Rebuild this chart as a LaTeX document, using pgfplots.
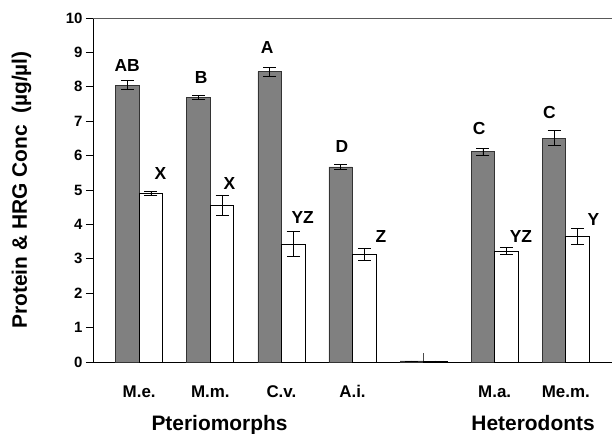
\documentclass[border=0pt]{standalone}
\usepackage{pgfplots}
\usepackage{pgfplotstable}
\pgfplotsset{compat=1.18}
\usepackage{fontspec}
\setmainfont{Liberation Sans}
\pgfplotstableread{
x d de w we
0 8.05 0.13 4.90 0.06
1 7.69 0.06 4.55 0.30
2 8.44 0.13 3.43 0.37
3 5.67 0.08 3.12 0.17
4 0.03 0.00 0.03 0.00
5 6.11 0.11 3.22 0.10
6 6.51 0.21 3.65 0.23
}\data
\begin{document}
\begin{tikzpicture}
\begin{axis}[
 scale only axis, width=519bp, height=344bp,
 xmin=-0.65, xmax=6.65, ymin=0, ymax=10,
 axis lines*=left, axis line style={black, line width=0.8bp},
 clip=false,
 ytick={0,1,...,10},
 xtick={0,1,...,6},
 xticklabels={M.e.,M.m.,C.v.,A.i.,,M.a.,Me.m.},
 x tick style={draw=none},
 y tick style={black, line width=0.8bp},
 tick align=outside, major tick length=7bp,
 yticklabel style={font=\fontsize{15}{18}\selectfont\bfseries},
 xticklabel style={font=\fontsize{17}{20}\selectfont\bfseries, anchor=base, yshift=-28bp},
 /pgf/number format/assume math mode=true,
]
\coordinate (sw) at (rel axis cs:0,0);
\coordinate (ne) at (rel axis cs:1,1);
\draw[black!65, line width=0.8bp] (rel axis cs:0,1) -- (rel axis cs:1,1);
\addplot[ybar, bar width=23.5bp, bar shift=0pt, fill=gray, draw=black!80, line width=0.7bp,
  error bars/.cd, y dir=both, y explicit,
  error bar style={black, line width=0.7bp},
  error mark options={rotate=90, mark size=6.5bp, black, line width=0.7bp}]
  table[x expr=\thisrow{x}-0.1653, y=d, y error=de] {\data};
\addplot[ybar, bar width=23.5bp, bar shift=0pt, fill=white, draw=black, line width=0.7bp,
  error bars/.cd, y dir=both, y explicit,
  error bar style={black, line width=0.7bp},
  error mark options={rotate=90, mark size=6.5bp, black, line width=0.7bp}]
  table[x expr=\thisrow{x}+0.1653, y=w, y error=we] {\data};
\addplot[draw=none, mark=none,
  error bars/.cd, y dir=plus, y explicit, error mark=none,
  error bar style={black!70, line width=0.7bp}]
  coordinates {(4,0.03) +- (0,0.24)};
\begin{scope}[every node/.style={font=\fontsize{17.5}{20}\selectfont\bfseries, anchor=center, inner sep=0pt}]
\node at (axis cs:-0.17,8.63) {AB};
\node at (axis cs:0.30,5.49) {X};
\node at (axis cs:0.87,8.28) {B};
\node at (axis cs:1.27,5.20) {X};
\node at (axis cs:1.80,9.13) {A};
\node at (axis cs:2.30,4.19) {YZ};
\node at (axis cs:2.85,6.25) {D};
\node at (axis cs:3.40,3.64) {Z};
\node at (axis cs:4.78,6.80) {C};
\node at (axis cs:5.37,3.66) {YZ};
\node at (axis cs:5.77,7.24) {C};
\node at (axis cs:6.39,4.13) {Y};
\end{scope}
\node[anchor=base, font=\fontsize{21}{24}\selectfont\bfseries] at ([yshift=-68bp]axis cs:1.13,0) {Pteriomorphs};
\node[anchor=base, font=\fontsize{21}{24}\selectfont\bfseries] at ([yshift=-68bp]axis cs:5.54,0) {Heterodonts};
\node[rotate=90, anchor=base, font=\fontsize{21}{24}\selectfont\bfseries] at ([xshift=-66bp]rel axis cs:0,0.5) {Protein \& HRG Conc\ \ (µg/µl)};
\end{axis}
\pgfresetboundingbox
\path[use as bounding box] ([shift={(-93bp,-72bp)}]sw) rectangle ([shift={(0bp,18bp)}]ne);
\end{tikzpicture}
\end{document}
